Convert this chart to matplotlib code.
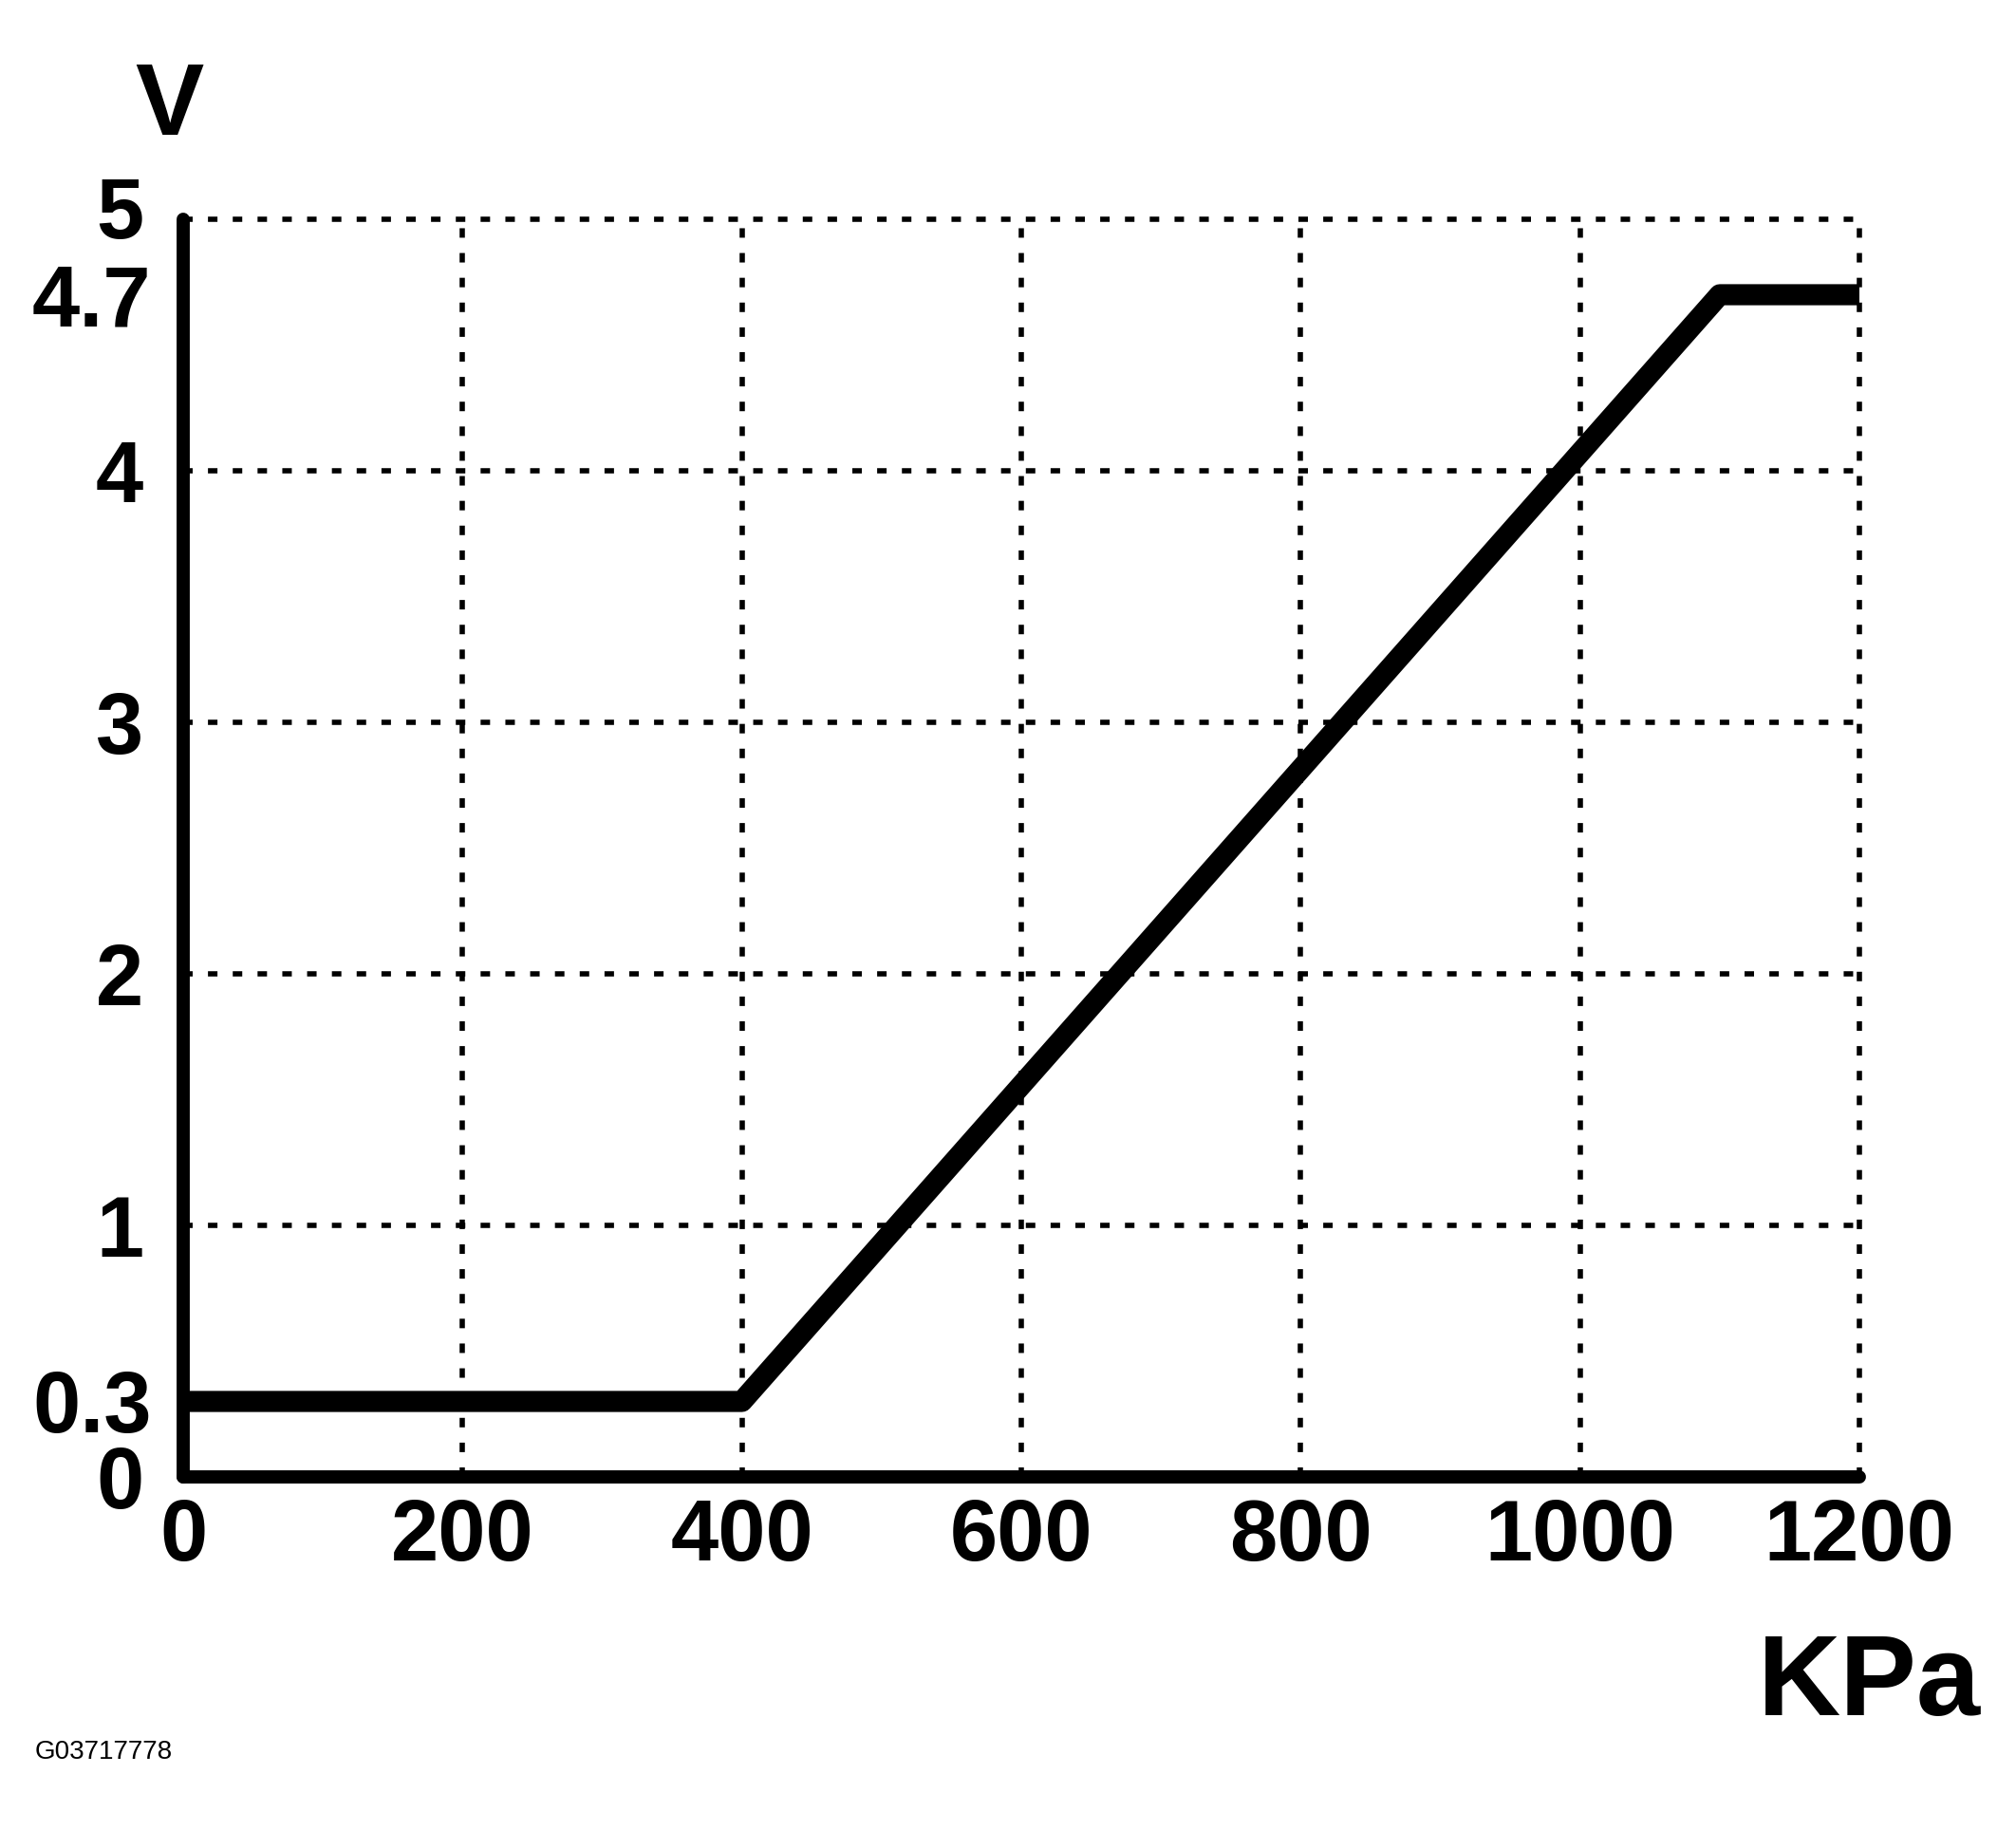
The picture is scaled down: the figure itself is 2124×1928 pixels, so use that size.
import matplotlib
matplotlib.use("Agg")
import matplotlib.pyplot as plt
from matplotlib.transforms import ScaledTranslation

# Data
pressure_kpa = [0, 400, 1100, 1200]
voltage_v = [0.3, 0.3, 4.7, 4.7]
x_ticks = [0, 200, 400, 600, 800, 1000, 1200]
x_tick_labels = ["0", "200", "400", "600", "800", "1000", "1200"]
y_major_ticks = [0, 1, 2, 3, 4, 5]
y_major_labels = ["0", "1", "2", "3", "4", "5"]
y_minor_ticks = [0.3, 4.7]
y_minor_labels = ["0.3", "4.7"]

W, H, DPI = 2124, 1928, 100
fig = plt.figure(figsize=(W / DPI, H / DPI), dpi=DPI)
fig.patch.set_facecolor("white")

left, right = 193 / W, 1959 / W
bottom, top = (H - 1556) / H, (H - 231) / H
ax = fig.add_axes([left, bottom, right - left, top - bottom])

ax.plot(pressure_kpa, voltage_v, color="black", linewidth=16,
        solid_joinstyle="round", solid_capstyle="butt", zorder=3, clip_on=False)

ax.set_xlim(0, 1200)
ax.set_ylim(0, 5)

font = dict(family="Liberation Sans", weight="bold", size=65)

ax.set_xticks(x_ticks)
ax.set_xticklabels(x_tick_labels, fontdict=font)
ax.set_yticks(y_major_ticks)
ax.set_yticklabels(y_major_labels, fontdict=font)
ax.set_yticks(y_minor_ticks, minor=True)
ax.set_yticklabels(y_minor_labels, minor=True, fontdict=font)

ax.tick_params(axis="both", which="both", length=0)
ax.tick_params(axis="x", pad=16)
ax.tick_params(axis="y", which="major", pad=30)
ax.tick_params(axis="y", which="minor", pad=24)

ax.grid(True, which="major", color="black", linewidth=4.0,
        linestyle=(0, (1.8, 2.9)), zorder=1)
ax.set_axisbelow(True)
for gl in ax.get_xgridlines() + ax.get_ygridlines():
    gl.set_clip_on(False)

# nudge the "5" label upward like the reference
for lbl in ax.get_yticklabels():
    if lbl.get_text() == "5":
        lbl.set_transform(lbl.get_transform() + ScaledTranslation(0, 0.13, fig.dpi_scale_trans))

for s in ["top", "right"]:
    ax.spines[s].set_visible(False)
for s in ["left", "bottom"]:
    ax.spines[s].set_linewidth(10)
    ax.spines[s].set_capstyle("round")
    ax.spines[s].set_zorder(4)

fig.text(178 / W, 1 - 114 / H, "V", ha="center", va="center",
         family="Liberation Sans", weight="bold", fontsize=78)
fig.text(2087 / W, 1 - 1807 / H, "KPa", ha="right", va="baseline",
         family="Liberation Sans", weight="bold", fontsize=87)
fig.text(37 / W, 1 - 1853 / H, "G03717778", ha="left", va="baseline",
         family="Liberation Sans", fontsize=20)

fig.savefig("out.png", dpi=DPI, facecolor="white")
